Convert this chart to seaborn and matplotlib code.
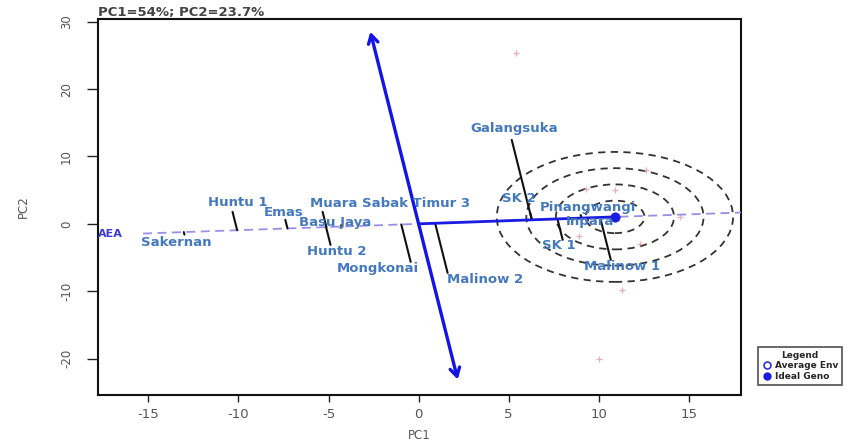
import numpy as np
import pandas as pd
import matplotlib
matplotlib.use("Agg")
import matplotlib.pyplot as plt
import seaborn as sns
from matplotlib.patches import Ellipse, FancyArrowPatch
from matplotlib.lines import Line2D

# ---------------- data ----------------
genotypes = ["Sakernan", "Huntu 1", "Emas", "Basu Jaya", "Muara Sabak Timur 3",
             "Huntu 2", "Mongkonai", "Malinow 2", "Galangsuka", "SK 2",
             "Pinangwangi", "Inpara", "SK 1", "Malinow 1"]
geno_x = [-13.0, -10.33, -7.4, -4.3, -5.33, -4.89, -0.44, 1.61, 5.17, 6.2, 9.0, 9.4, 8.0, 10.67]
geno_y = [-1.6, 1.78, 0.6, -0.2, 1.78, -3.12, -5.64, -7.27, 12.46, 1.6, 1.3, 0.5, -2.37, -5.34]
label_x = [-13.44, -10.06, -7.5, -4.61, -1.56, -4.56, -2.28, 3.67, 5.33, 5.56, 9.39, 9.5, 7.78, 11.28]
label_y = [-2.82, 3.12, 1.63, 0.15, 2.97, -4.15, -6.68, -8.31, 14.09, 3.71, 2.37, 0.3, -3.26, -6.38]

env_x = [5.4, 10.0, 11.3, 12.3, 8.9, 14.5, 10.9, 9.3, 12.6]
env_y = [25.3, -20.0, -9.8, -3.0, -1.8, 1.0, 5.0, 5.2, 8.0]

ideal_x, ideal_y = 10.9, 1.03
aea_slope = 0.094
aea_label = "AEA"
aea_label_pos = (-17.1, -1.48)
aea_x_start = -15.3
perp_top_y, perp_bottom_y = 28.5, -23.1
ring_r = [1.64, 3.28, 4.92, 6.56]

x_ticks = [-15, -10, -5, 0, 5, 10, 15]
y_ticks = [-20, -10, 0, 10, 20, 30]
title = "PC1=54%; PC2=23.7%"

# ---------------- figure ----------------
sns.set_theme(style="white")
plt.rcParams["font.family"] = ["DejaVu Sans"]
plt.rcParams["axes.unicode_minus"] = False

W, H = 864, 442
fig = plt.figure(figsize=(W / 100, H / 100), dpi=100)
ax = fig.add_axes([98 / W, 1 - 395 / H, (741 - 98) / W, (395 - 19) / H])
xlim = (-17.8, 17.9)
ylim = (-25.4, 30.4)
ax.set_xlim(*xlim)
ax.set_ylim(*ylim)

# rings around ideal genotype (stretched like the reference)
ring_aspect = 1.47
for r in ring_r:
    ax.add_patch(Ellipse((ideal_x, ideal_y), 2 * r, 2 * r * ring_aspect, fill=False,
                         ec="#333333", lw=1.3, ls=(0, (4, 3)), zorder=2))

# average environment axis (dashed)
ax.plot([aea_x_start, xlim[1]], [aea_slope * aea_x_start, aea_slope * xlim[1]],
        color="#9a8ee6", lw=1.3, ls=(0, (5, 3)), zorder=3)
# solid arrow from origin to ideal genotype
ax.plot([0, ideal_x], [0, ideal_y], color="#1c1ce0", lw=2.0, zorder=4)

# perpendicular axis through origin
perp_slope = -1.0 / aea_slope
arr = FancyArrowPatch((perp_bottom_y / perp_slope, perp_bottom_y),
                      (perp_top_y / perp_slope, perp_top_y),
                      arrowstyle="<->,head_length=6,head_width=3.5",
                      color="#1414e6", lw=2.4, zorder=4, shrinkA=0, shrinkB=0)
ax.add_patch(arr)

# projection lines from genotypes to AEA
u = np.array([1.0, aea_slope]) / np.hypot(1.0, aea_slope)
for gx, gy in zip(geno_x, geno_y):
    p = np.array([gx, gy])
    proj = p.dot(u) * u
    ax.plot([gx, proj[0]], [gy, proj[1]], color="#111111", lw=1.5, zorder=3)

# environment markers
env_df = pd.DataFrame({"x": env_x, "y": env_y})
sns.scatterplot(data=env_df, x="x", y="y", ax=ax, marker="+", color="#e07a7a",
                s=14, linewidth=0.9, alpha=0.6, zorder=2, legend=False)

# ideal genotype
ideal_df = pd.DataFrame({"x": [ideal_x], "y": [ideal_y]})
sns.scatterplot(data=ideal_df, x="x", y="y", ax=ax, marker="o", color="#1c1ce0",
                s=45, edgecolor="#1c1ce0", zorder=5, legend=False)

# labels
for name, lx, ly in zip(genotypes, label_x, label_y):
    ax.text(lx, ly, name, ha="center", va="center", fontsize=9.5, color="#4479bd",
            fontweight="bold", zorder=6)
ax.text(aea_label_pos[0], aea_label_pos[1], aea_label, ha="center", va="center",
        fontsize=8, color="#3a3ad8", fontweight="bold", zorder=6)

# axes styling
ax.set_xticks(x_ticks)
ax.set_yticks(y_ticks)
ax.set_xticklabels([str(t) for t in x_ticks])
ax.set_yticklabels([str(t) for t in y_ticks], rotation=90, va="center")
ax.tick_params(axis="x", direction="out", length=5, width=1, color="#222222",
               labelsize=9.5, labelcolor="#555555", pad=4, bottom=True)
ax.tick_params(axis="y", direction="out", length=8, width=1, color="#222222",
               labelsize=8.5, labelcolor="#555555", pad=10, left=True)
for s in ax.spines.values():
    s.set_color("#111111")
    s.set_linewidth(1.5)
ax.set_xlabel("PC1", fontsize=8.5, color="#555555", labelpad=6)
ax.set_ylabel("PC2", fontsize=8.5, color="#555555", labelpad=22)
ax.set_title(title, loc="left", fontsize=9.5, color="#444444", fontweight="bold", pad=2)

# legend
handles = [Line2D([0], [0], marker="o", ls="none", mfc="white", mec="#3030e0",
                  mew=1.2, ms=5, label="Average Env"),
           Line2D([0], [0], marker="o", ls="none", mfc="#1c1ce0", mec="#1c1ce0",
                  ms=5, label="Ideal Geno")]
leg = fig.legend(handles=handles, title="Legend", loc="upper left",
                 bbox_to_anchor=(758 / W, 1 - 347 / H), fontsize=6.5,
                 title_fontsize=6.5, frameon=True, fancybox=False,
                 handletextpad=0.4, borderpad=0.45, labelspacing=0.15,
                 handlelength=1.0, borderaxespad=0)
leg.get_frame().set_edgecolor("#222222")
leg.get_frame().set_linewidth(1.2)
plt.setp(leg.get_title(), fontweight="bold")
for t in leg.get_texts():
    t.set_fontweight("bold")

fig.savefig("out.png", dpi=100)
